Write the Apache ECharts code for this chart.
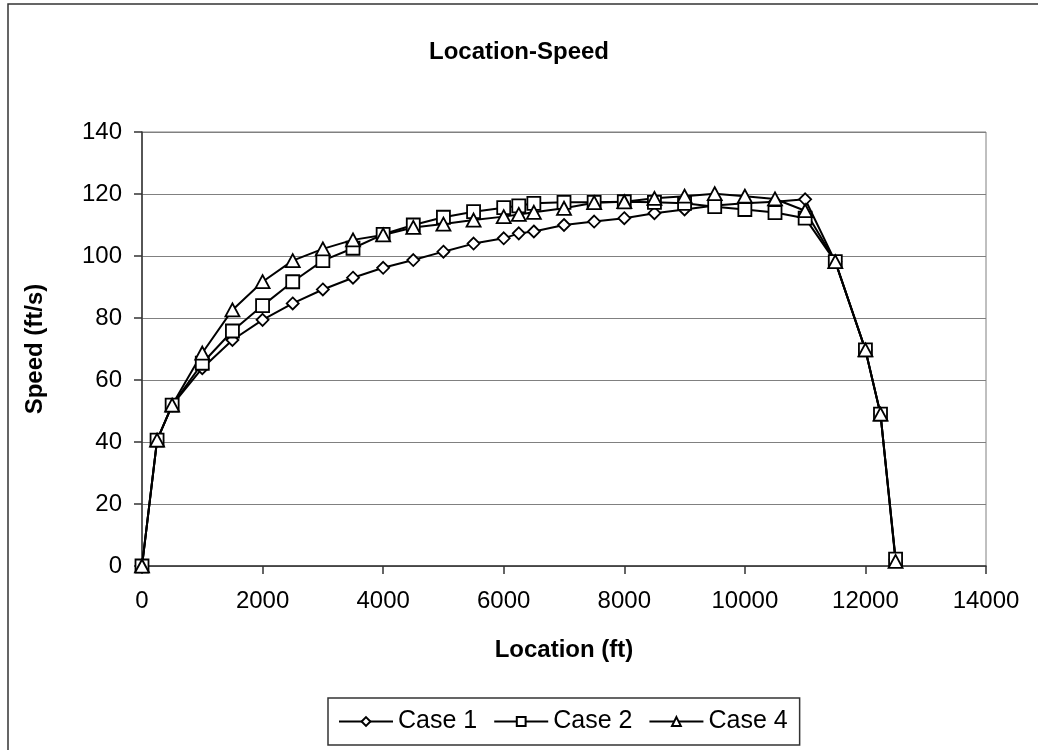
<!DOCTYPE html>
<html>
<head>
<meta charset="utf-8">
<title>Location-Speed</title>
<script src="https://cdn.jsdelivr.net/npm/echarts@6/dist/echarts.min.js"></script>
<style>
  html, body { margin: 0; padding: 0; background: #fff; }
  #chart { width: 1038px; height: 750px; }
</style>
</head>
<body>
<div id="chart"></div>
<script>
// Location along the track (ft)
const locations = [0, 250, 500, 1000, 1500, 2000, 2500, 3000, 3500, 4000, 4500, 5000, 5500,
  6000, 6250, 6500, 7000, 7500, 8000, 8500, 9000, 9500, 10000, 10500, 11000,
  11500, 12000, 12250, 12500];

// Speed (ft/s) for each case
const case1 = [0, 40.6, 51.9, 63.8, 72.9, 79.4, 84.7, 89.2, 93.0, 96.2, 98.7, 101.4, 104.0,
  105.7, 107.3, 107.9, 110.0, 111.1, 112.2, 113.8, 115.0, 116.3, 117.0, 117.5, 118.3,
  98.2, 69.7, 49.0, 2.2];
const case2 = [0, 40.6, 51.9, 65.4, 75.8, 84.0, 91.7, 98.5, 102.5, 107.0, 110.0, 112.5, 114.3,
  115.6, 116.2, 117.0, 117.3, 117.3, 117.5, 117.3, 117.0, 115.9, 115.0, 114.0, 112.2,
  98.2, 69.7, 49.0, 2.2];
const case4 = [0, 40.6, 51.9, 68.7, 82.6, 91.7, 98.5, 102.3, 105.2, 106.8, 109.2, 110.3, 111.6,
  112.7, 113.4, 114.1, 115.4, 117.2, 117.5, 118.6, 119.3, 120.1, 119.3, 118.4, 114.6,
  98.2, 69.7, 49.0, 1.5];

const seriesNames = ['Case 1', 'Case 2', 'Case 4'];
const seriesValues = [case1, case2, case4];
const seriesSymbols = ['path://M0,-1L1,0L0,1L-1,0Z', 'rect', 'triangle'];
const symbolSizes = [[12, 12], [13, 13], [14, 13]];

const FONT = "'Liberation Sans', Arial, sans-serif";

const chart = echarts.init(document.getElementById('chart'), null, { renderer: 'canvas' });

const series = seriesNames.map((name, i) => ({
  name: name,
  type: 'line',
  data: locations.map((x, j) => [x, seriesValues[i][j]]),
  symbol: seriesSymbols[i],
  symbolSize: symbolSizes[i],
  showAllSymbol: true,
  lineStyle: { color: '#000', width: 2 },
  itemStyle: { color: '#fff', borderColor: '#000', borderWidth: 1.8 },
  emphasis: { disabled: true },
  animation: false
}));

chart.setOption({
  backgroundColor: '#fff',
  animation: false,
  graphic: [{
    type: 'rect',
    shape: { x: 8, y: 4, width: 1100, height: 800 },
    style: { fill: 'none', stroke: '#333', lineWidth: 1.5 },
    silent: true
  }],
  title: {
    text: 'Location-Speed',
    left: 'center',
    top: 35,
    textStyle: { fontFamily: FONT, fontSize: 24, fontWeight: 'bold', color: '#000' }
  },
  grid: {
    left: 142, right: 52, top: 132, bottom: 184,
    show: true, borderColor: '#808080', borderWidth: 1,
    containLabel: false
  },
  xAxis: {
    type: 'value',
    min: 0, max: 14000, interval: 2000,
    name: 'Location (ft)',
    nameLocation: 'middle',
    nameGap: 72,
    nameTextStyle: { fontFamily: FONT, fontSize: 24, fontWeight: 'bold', color: '#000' },
    axisLine: { show: true, onZero: false, lineStyle: { color: '#333', width: 1.5 } },
    axisTick: { show: true, inside: false, length: 8, lineStyle: { color: '#333', width: 1.5 } },
    axisLabel: {
      fontFamily: FONT, fontSize: 24, color: '#000', margin: 23,
      formatter: (v) => String(v)
    },
    splitLine: { show: false }
  },
  yAxis: {
    type: 'value',
    min: 0, max: 140, interval: 20,
    name: 'Speed (ft/s)',
    nameLocation: 'middle',
    nameGap: 95,
    nameRotate: 90,
    nameTextStyle: { fontFamily: FONT, fontSize: 24, fontWeight: 'bold', color: '#000' },
    axisLine: { show: true, lineStyle: { color: '#333', width: 1.5 } },
    axisTick: { show: true, inside: false, length: 8, lineStyle: { color: '#333', width: 1.5 } },
    axisLabel: { fontFamily: FONT, fontSize: 24, color: '#000', margin: 20 },
    splitLine: { show: true, lineStyle: { color: '#808080', width: 1 } }
  },
  legend: {
    data: seriesNames,
    left: 328,
    top: 698,
    orient: 'horizontal',
    itemWidth: 54,
    itemHeight: 11,
    itemGap: 16,
    padding: [11, 12, 11, 10],
    borderColor: '#333',
    borderWidth: 1.5,
    textStyle: { fontFamily: FONT, fontSize: 25, color: '#000' },
    selectedMode: false
  },
  series: series
});
</script>
</body>
</html>
